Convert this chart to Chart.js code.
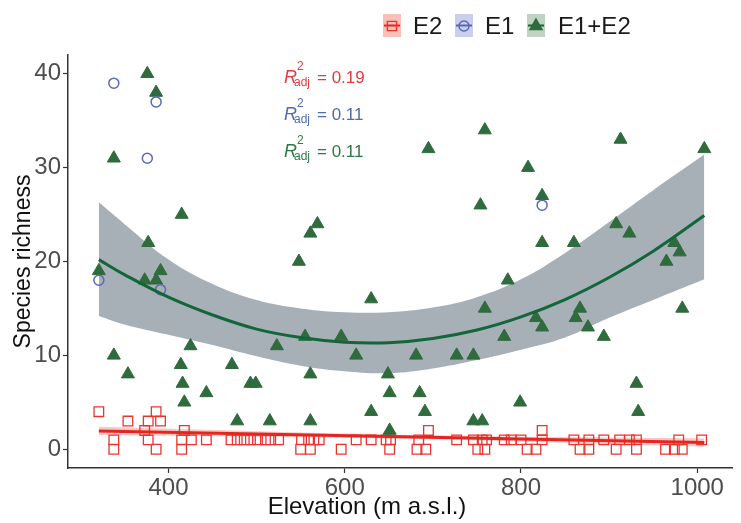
<!DOCTYPE html>
<html>
<head>
<meta charset="utf-8">
<script src="https://cdn.jsdelivr.net/npm/chart.js@4.4.0/dist/chart.umd.min.js"></script>
<style>
  html, body { margin: 0; padding: 0; background: #fff; }
</style>
</head>
<body>
<canvas id="myChart" width="741" height="523"></canvas>
<script>
// axis ticks
const xTicks = [400, 600, 800, 1000];
const yTicks = [0, 10, 20, 30, 40];

// E2 - open squares
const e2Elev = [321, 338, 338, 354, 373, 377, 377, 386, 386, 391, 415, 415, 418, 426, 443,
  471, 478, 486, 493, 501, 510, 516, 525, 550, 551, 559, 561, 565, 571, 596, 613, 630,
  647, 651, 652, 682, 684, 692, 695, 727, 746, 751, 756, 759, 761, 781, 789, 800, 807,
  817, 824, 824, 860, 867, 877, 877, 894, 908, 912, 923, 931, 931, 964, 974, 979, 983, 1005];
const e2Rich = [4, 1, 0, 3, 2, 3, 1, 4, 0, 3, 1, 0, 2, 1, 1,
  1, 1, 1, 1, 1, 1, 1, 1, 0, 1, 1, 0, 1, 1, 0, 1, 1,
  1, 0, 1, 0, 1, 0, 2, 1, 1, 0, 1, 0, 1, 1, 1, 1, 0,
  0, 2, 1, 1, 0, 1, 0, 1, 0, 1, 1, 1, 0, 0, 0, 1, 0, 1];

// E1 - open circles
const e1Elev = [321, 338, 376, 386, 391, 824];
const e1Rich = [18, 39, 31, 37, 17, 26];

// E1+E2 - filled triangles
const e12Elev = [321, 338, 338, 354, 373, 376, 377, 386, 386, 391, 414, 415, 416, 418, 425,
  443, 472, 478, 493, 499, 515, 523, 548, 555, 561, 561, 561, 569, 596, 613, 630, 630,
  649, 651, 651, 681, 685, 691, 695, 727, 746, 746, 754, 756, 759, 759, 781, 785, 799,
  808, 817, 824, 824, 824, 860, 862, 867, 876, 894, 908, 913, 923, 931, 933, 965, 974,
  980, 983, 1008];
const e12Rich = [19, 31, 10, 8, 18, 40, 22, 38, 18, 19, 9, 25, 7, 5, 11,
  6, 9, 3, 7, 7, 3, 11, 20, 12, 23, 8, 3, 24, 12, 10, 16, 4,
  8, 6, 2, 10, 6, 4, 32, 10, 10, 3, 26, 3, 34, 15, 12, 18, 5,
  30, 14, 27, 22, 13, 22, 14, 15, 13, 12, 24, 33, 23, 7, 4, 20, 22,
  21, 15, 32];

// fitted curves
const fitElev = [321, 350, 400, 450, 500, 550, 600, 650, 700, 750, 800, 850, 900, 950, 1008];
const fitRich = [20.2, 18.6, 16.2, 14.3, 12.8, 11.9, 11.4, 11.35, 11.8, 12.7, 14.1, 15.95, 18.3, 21.1, 24.9];
const fitUpper = [26.3, 24.0, 20.2, 17.6, 15.9, 15.0, 14.6, 14.6, 15.1, 16.2, 18.1, 20.9, 24.2, 27.6, 31.4];
const fitLower = [14.2, 13.3, 12.2, 11.1, 9.9, 8.9, 8.3, 8.1, 8.6, 9.5, 10.6, 11.9, 14.0, 15.9, 18.1];

const e2FitElev = [321, 665, 1008];
const e2FitRich = [1.95, 1.33, 0.71];
const e2FitUpper = [2.4, 1.55, 1.15];
const e2FitLower = [1.5, 1.11, 0.27];

const r2Values = ['0.19', '0.11', '0.11'];

const pts = (xs, ys) => xs.map((x, i) => ({x: x, y: ys[i]}));

const FONT = "'Liberation Sans', Arial, sans-serif";

const ggExtras = {
  id: 'ggExtras',
  afterDraw(chart) {
    const ctx = chart.ctx;
    ctx.save();

    // legend
    const keys = [
      {bx: 383, tx: 413, label: 'E2', bg: 'rgba(242,140,125,0.55)', line: '#e52620', style: 'rect', r: 6.5, stroke: '#e8362d', fill: 'rgba(0,0,0,0)'},
      {bx: 455, tx: 485, label: 'E1', bg: 'rgba(150,160,220,0.5)', line: '#5b68b8', style: 'circle', r: 5, stroke: '#5b68b8', fill: 'rgba(0,0,0,0)'},
      {bx: 527, tx: 558, label: 'E1+E2', bg: 'rgba(140,175,145,0.55)', line: '#12663a', style: 'triangle', r: 7, stroke: '#2f6b3c', fill: '#2f6b3c'}
    ];
    keys.forEach(k => {
      ctx.fillStyle = k.bg;
      ctx.fillRect(k.bx, 14, 18, 23);
      ctx.strokeStyle = k.line;
      ctx.lineWidth = 2;
      ctx.beginPath();
      ctx.moveTo(k.bx + 1, 25.5);
      ctx.lineTo(k.bx + 17, 25.5);
      ctx.stroke();
      ctx.fillStyle = k.fill;
      ctx.strokeStyle = k.stroke;
      ctx.lineWidth = 1.4;
      Chart.helpers.drawPoint(ctx, {pointStyle: k.style, radius: k.r, rotation: 0, borderWidth: 1.4}, k.bx + 9, 26);
      ctx.fillStyle = '#1a1a1a';
      ctx.font = '24px ' + FONT;
      ctx.textBaseline = 'middle';
      ctx.textAlign = 'left';
      ctx.fillText(k.label, k.tx, 27);
    });

    // R2 annotations
    const colors = ['#e03c3c', '#4e6ea8', '#2b7a45'];
    const baselines = [83, 120, 157];
    ctx.textBaseline = 'alphabetic';
    r2Values.forEach((v, i) => {
      const b = baselines[i];
      ctx.fillStyle = colors[i];
      ctx.font = 'italic 18px ' + FONT;
      ctx.fillText('R', 284, b);
      ctx.font = '12px ' + FONT;
      ctx.fillText('2', 297, b - 13);
      ctx.fillText('adj', 294, b + 3);
      ctx.font = '17px ' + FONT;
      ctx.fillText('= ' + v, 317, b);
    });

    // x axis title
    ctx.fillStyle = '#111';
    ctx.font = '24px ' + FONT;
    ctx.textAlign = 'center';
    ctx.textBaseline = 'middle';
    ctx.fillText('Elevation (m a.s.l.)', 367, 507);
    ctx.restore();
  }
};

const ctx = document.getElementById('myChart');

new Chart(ctx, {
  type: 'scatter',
  data: {
    datasets: [
      {
        type: 'line', label: 'band12up', data: pts(fitElev, fitUpper),
        borderWidth: 0, pointRadius: 0, tension: 0.4, fill: '+1',
        backgroundColor: '#a7b0b7', order: 10
      },
      {
        type: 'line', label: 'band12lo', data: pts(fitElev, fitLower),
        borderWidth: 0, pointRadius: 0, tension: 0.4, fill: false, order: 10
      },
      {
        type: 'line', label: 'band2up', data: pts(e2FitElev, e2FitUpper),
        borderWidth: 0, pointRadius: 0, tension: 0.4, fill: '+1',
        backgroundColor: 'rgba(240,120,110,0.4)', order: 9
      },
      {
        type: 'line', label: 'band2lo', data: pts(e2FitElev, e2FitLower),
        borderWidth: 0, pointRadius: 0, tension: 0.4, fill: false, order: 9
      },
      {
        label: 'E2', data: pts(e2Elev, e2Rich),
        pointStyle: 'rect', pointRadius: 6.8, pointBorderWidth: 1.3,
        pointBorderColor: '#e8362d', pointBackgroundColor: 'rgba(0,0,0,0)', order: 6
      },
      {
        label: 'E1+E2', data: pts(e12Elev, e12Rich),
        pointStyle: 'triangle', pointRadius: 7.5, pointBorderWidth: 1,
        pointBorderColor: '#2f6b3c', pointBackgroundColor: '#2f6b3c', order: 5
      },
      {
        label: 'E1', data: pts(e1Elev, e1Rich),
        pointStyle: 'circle', pointRadius: 5, pointBorderWidth: 1.5,
        pointBorderColor: '#5b68b8', pointBackgroundColor: 'rgba(0,0,0,0)', order: 4
      },
      {
        type: 'line', label: 'fitE2', data: pts(e2FitElev, e2FitRich),
        borderColor: '#e52620', borderWidth: 3, pointRadius: 0, fill: false, order: 2
      },
      {
        type: 'line', label: 'fitE12', data: pts(fitElev, fitRich),
        borderColor: '#12663a', borderWidth: 3, pointRadius: 0, tension: 0.4, fill: false, order: 1
      }
    ]
  },
  options: {
    responsive: false,
    animation: false,
    devicePixelRatio: 1,
    layout: { padding: { top: 55, right: 1, left: 0, bottom: 0 } },
    plugins: {
      legend: { display: false },
      tooltip: { enabled: false }
    },
    scales: {
      x: {
        type: 'linear',
        min: 286,
        max: 1040,
        afterBuildTicks: axis => { axis.ticks = xTicks.map(v => ({value: v})); },
        afterFit: axis => { axis.height = 55; },
        ticks: {
          color: '#4d4d4d',
          font: { size: 24, family: FONT },
          padding: 1,
          maxRotation: 0,
          autoSkip: false,
          callback: v => String(v)
        },
        grid: {
          drawOnChartArea: false,
          tickLength: 5,
          tickColor: '#333',
          tickWidth: 1.2
        },
        border: { color: '#333', width: 1.5 }
      },
      y: {
        min: -2,
        max: 42,
        afterBuildTicks: axis => { axis.ticks = yTicks.map(v => ({value: v})); },
        afterFit: axis => { axis.width = 68; },
        ticks: {
          color: '#4d4d4d',
          font: { size: 24, family: FONT },
          padding: 2,
          autoSkip: false,
          callback: v => String(v)
        },
        grid: {
          drawOnChartArea: false,
          tickLength: 5,
          tickColor: '#333',
          tickWidth: 1.2
        },
        border: { color: '#333', width: 1.5 },
        title: {
          display: true,
          text: 'Species richness',
          color: '#111',
          font: { size: 23, family: FONT },
          padding: { top: 10, bottom: 0 }
        }
      }
    }
  },
  plugins: [ggExtras]
});
</script>
</body>
</html>
